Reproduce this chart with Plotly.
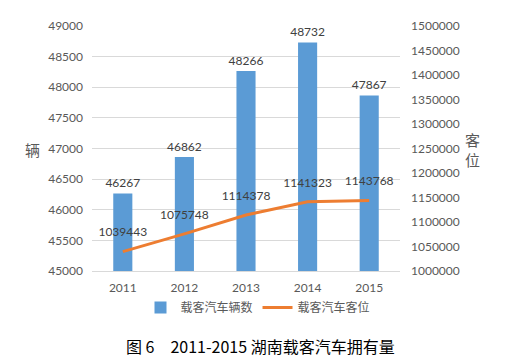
import plotly.graph_objects as go

years = ["2011", "2012", "2013", "2014", "2015"]
vehicles = [46267, 46862, 48266, 48732, 47867]
seats = [1039443, 1075748, 1114378, 1141323, 1143768]

left_ticks = [45000, 45500, 46000, 46500, 47000, 47500, 48000, 48500, 49000]
right_ticks = [1000000, 1050000, 1100000, 1150000, 1200000, 1250000, 1300000, 1350000, 1400000, 1450000, 1500000]

FONT = "Lato, Noto Sans CJK SC, sans-serif"
TXT = "#595959"

W, H = 508, 357
l, r, t, b = 92, 108, 26, 86
pw, ph = W - l - r, H - t - b

def px2paper(x, y):
    return (x - l) / pw, 1 - (y - t) / ph

fig = go.Figure()
fig.add_trace(go.Bar(
    x=years, y=vehicles, name="载客汽车辆数",
    marker=dict(color="#5B9BD5", line=dict(width=0)),
    text=[str(v) for v in vehicles], textposition="outside",
    textfont=dict(size=12, color="#404040", family=FONT),
    constraintext="none",
    cliponaxis=False, width=0.31,
))
fig.add_trace(go.Scatter(
    x=years, y=seats, name="载客汽车客位", yaxis="y2",
    mode="lines+markers+text", line=dict(color="#ED7D31", width=3),
    marker=dict(size=18, color="rgba(0,0,0,0)"),
    text=[str(v) for v in seats], textposition="top center",
    textfont=dict(size=12, color="#404040", family=FONT),
    cliponaxis=False,
))

lx, ly = px2paper(258, 293)
annots = []
for txt, x, y, size, color, fam in [
    ("辆", 32, 150, 15, TXT, FONT),
    ("客<br>位", 472, 150, 15, TXT, FONT),
    ("图 6　2011-2015 湖南载客汽车拥有量", 260, 346, 16, "#000000", "Noto Sans CJK SC, serif"),
]:
    ax, ay = px2paper(x, y)
    annots.append(dict(text=txt, x=ax, y=ay, xref="paper", yref="paper",
                       xanchor="center", yanchor="middle", showarrow=False,
                       font=dict(size=size, color=color, family=fam)))

fig.update_layout(
    width=W, height=H,
    margin=dict(l=l, r=r, t=t, b=b, autoexpand=False),
    paper_bgcolor="white", plot_bgcolor="white",
    font=dict(family=FONT, color=TXT, size=12),
    showlegend=True,
    legend=dict(orientation="h", x=lx, xanchor="center", y=ly, yanchor="top",
                font=dict(size=12, color=TXT), tracegroupgap=0),
    xaxis=dict(showgrid=False, showline=True, linecolor="#d9d9d9", ticks="",
               ticklabelstandoff=6, tickfont=dict(size=12, color=TXT)),
    yaxis=dict(range=[45000, 49000], tickvals=left_ticks, tickformat="d", showgrid=True,
               gridcolor="#d9d9d9", zeroline=False, ticks="", ticklabelstandoff=8,
               tickfont=dict(size=12, color=TXT)),
    yaxis2=dict(range=[1000000, 1500000], tickvals=right_ticks, tickformat="d", overlaying="y",
                side="right", showgrid=False, zeroline=False, ticks="", ticklabelstandoff=10,
                tickfont=dict(size=12, color=TXT)),
    annotations=annots,
)

fig.write_html("out.html", post_script="document.body.style.margin='0';",
               config={"displayModeBar": False})
